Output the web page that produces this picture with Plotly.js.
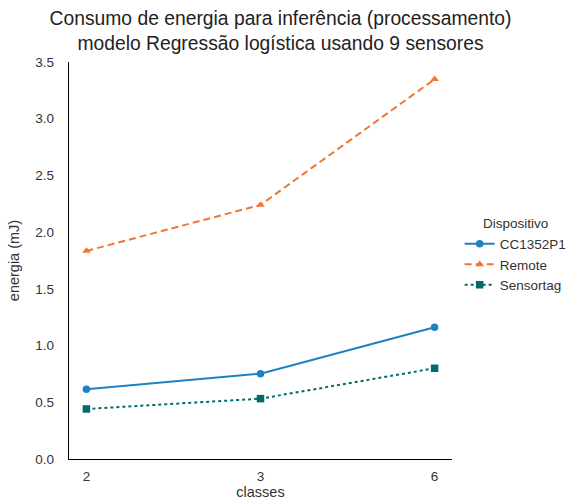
<!DOCTYPE html>
<html>
<head>
<meta charset="utf-8">
<script src="https://cdn.plot.ly/plotly-3.0.1.min.js"></script>
<style>
  html, body { margin: 0; padding: 0; background: #fff; }
  #chart { width: 579px; height: 504px; }
</style>
</head>
<body>
<div id="chart"></div>
<script>
// Number of classes (categorical x axis)
const classes = ["2", "3", "6"];

// Energy per inference (mJ) for each device
const cc1352p1 = [0.615, 0.752, 1.161];
const remote = [1.834, 2.240, 3.348];
const sensortag = [0.441, 0.532, 0.800];

const yTicks = [0, 0.5, 1.0, 1.5, 2.0, 2.5, 3.0, 3.5];

const font = "Liberation Sans, Arial, sans-serif";

const traces = [
  {
    name: "CC1352P1", x: classes, y: cc1352p1, type: "scatter", mode: "lines+markers",
    line: { color: "#1f82c0", width: 2, dash: "solid" },
    marker: { symbol: "circle", size: 7.5, color: "#1f82c0" }
  },
  {
    name: "Remote", x: classes, y: remote, type: "scatter", mode: "lines+markers",
    line: { color: "#ee7733", width: 2, dash: "7px,4px" },
    marker: { symbol: "triangle-up", size: 7.5, color: "#ee7733" }
  },
  {
    name: "Sensortag", x: classes, y: sensortag, type: "scatter", mode: "lines+markers",
    line: { color: "#006b6b", width: 2, dash: "dot" },
    marker: { symbol: "square", size: 7.5, color: "#006b6b" }
  }
];

const layout = {
  width: 579, height: 504,
  paper_bgcolor: "#fff", plot_bgcolor: "#fff",
  margin: { l: 69, r: 127, t: 62, b: 45, autoexpand: false },
  font: { family: font, size: 13.5, color: "#333" },
  title: {
    text: "Consumo de energia para inferência (processamento)<br>modelo Regressão logística usando 9 sensores",
    font: { family: font, size: 19.3, color: "#222" },
    x: 0.4845, xanchor: "center", yref: "container", y: 0.950, yanchor: "top"
  },
  xaxis: {
    type: "category", categoryorder: "array", categoryarray: classes,
    range: [-0.1, 2.1],
    showgrid: false, zeroline: false,
    showline: true, linecolor: "#000", linewidth: 1.2,
    ticks: "", tickfont: { family: font, size: 13.5, color: "#333" },
    ticklabelstandoff: 5,
    title: { text: "classes", font: { family: font, size: 14.5, color: "#333" }, standoff: 3 }
  },
  yaxis: {
    range: [0, 3.5],
    tickvals: yTicks, ticktext: yTicks.map(v => v.toFixed(1)),
    showgrid: false, zeroline: false,
    showline: true, linecolor: "#000", linewidth: 1.2,
    ticks: "", tickfont: { family: font, size: 13.5, color: "#333" },
    ticklabelstandoff: 11,
    title: { text: "energia (mJ)", font: { family: font, size: 14.5, color: "#333" }, standoff: 12 }
  },
  legend: {
    x: 1.02, xanchor: "left", y: 0.625, yanchor: "top",
    bgcolor: "rgba(0,0,0,0)",
    font: { family: font, size: 13.5, color: "#333" },
    title: { text: "Dispositivo", side: "top center", font: { family: font, size: 13.5, color: "#333" } },
    tracegroupgap: 0, itemwidth: 30
  },
  showlegend: true
};

Plotly.newPlot("chart", traces, layout, { displayModeBar: false, staticPlot: true });
</script>
</body>
</html>
